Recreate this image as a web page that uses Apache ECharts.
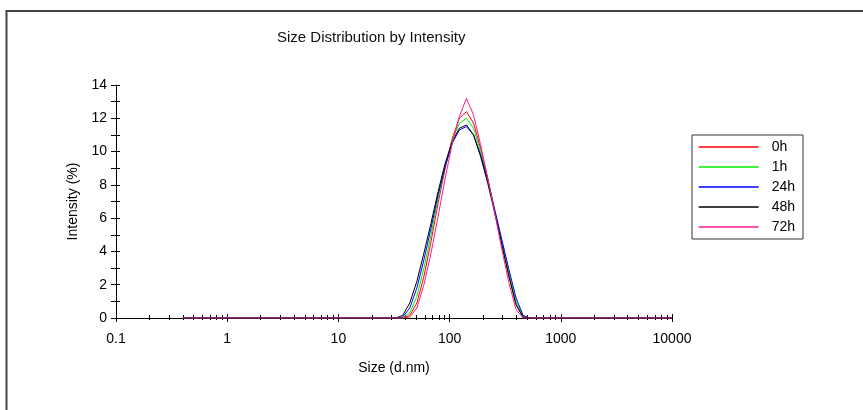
<!DOCTYPE html>
<html>
<head>
<meta charset="utf-8">
<script src="https://cdn.jsdelivr.net/npm/echarts@6/dist/echarts.min.js"></script>
<style>
html,body{margin:0;padding:0;background:#fff;}
#chart{width:863px;height:410px;}
</style>
</head>
<body>
<div id="chart"></div>
<script>
// Size classes (d.nm)
const sizes = [0.4, 0.4632, 0.5365, 0.6213, 0.7195, 0.8332, 0.9649, 1.117, 1.294, 1.499,
  1.736, 2.010, 2.328, 2.696, 3.122, 3.615, 4.187, 4.849, 5.615, 6.503,
  7.531, 8.721, 10.10, 11.70, 13.54, 15.69, 18.17, 21.04, 24.36, 28.21,
  32.67, 37.84, 43.82, 50.75, 58.77, 68.06, 78.82, 91.28, 105.7, 122.4,
  141.8, 164.2, 190.1, 220.2, 255.0, 295.3, 342.0, 396.1, 458.7, 531.2,
  615.1, 712.4, 825.0, 955.4, 1106, 1281, 1484, 1718, 1990, 2305,
  2669, 3091, 3580, 4145, 4801, 5560, 6439, 7456, 8635, 10000];

const seriesNames = ['0h', '1h', '24h', '48h', '72h'];

const int0h = [0,0,0,0,0,0,0,0,0,0, 0,0,0,0,0,0,0,0,0,0, 0,0,0,0,0,0,0,0,0,0,
  0, 0, 0.15, 0.9, 2.5, 4.6, 6.9, 9.0, 10.8, 12.0,
  12.4, 11.7, 10.2, 8.4, 6.4, 4.4, 2.5, 0.8, 0.03, 0,
  0,0,0,0,0,0,0,0,0,0, 0,0,0,0,0,0,0,0,0,0];
const int1h = [0,0,0,0,0,0,0,0,0,0, 0,0,0,0,0,0,0,0,0,0, 0,0,0,0,0,0,0,0,0,0,
  0, 0, 0.3, 1.3, 3.0, 5.0, 7.2, 9.1, 10.7, 11.7,
  12.0, 11.4, 10.0, 8.3, 6.4, 4.5, 2.7, 1.0, 0.1, 0,
  0,0,0,0,0,0,0,0,0,0, 0,0,0,0,0,0,0,0,0,0];
const int24h = [0,0,0,0,0,0,0,0,0,0, 0,0,0,0,0,0,0,0,0,0, 0,0,0,0,0,0,0,0,0,0,
  0, 0.05, 0.6, 1.8, 3.5, 5.4, 7.4, 9.1, 10.5, 11.3,
  11.5, 11.0, 9.8, 8.3, 6.5, 4.7, 2.9, 1.2, 0.15, 0,
  0,0,0,0,0,0,0,0,0,0, 0,0,0,0,0,0,0,0,0,0];
const int48h = [0,0,0,0,0,0,0,0,0,0, 0,0,0,0,0,0,0,0,0,0, 0,0,0,0,0,0,0,0,0,0,
  0, 0.15, 0.9, 2.2, 3.9, 5.7, 7.6, 9.3, 10.6, 11.4,
  11.6, 11.0, 9.7, 8.1, 6.3, 4.4, 2.5, 0.8, 0.05, 0,
  0,0,0,0,0,0,0,0,0,0, 0,0,0,0,0,0,0,0,0,0];
const int72h = [0,0,0,0,0,0,0,0,0,0, 0,0,0,0,0,0,0,0,0,0, 0,0,0,0,0,0,0,0,0,0,
  0, 0, 0.05, 0.6, 2.0, 3.9, 6.1, 8.4, 10.5, 12.1,
  13.2, 12.2, 10.4, 8.4, 6.3, 4.1, 2.1, 0.5, 0, 0,
  0,0,0,0,0,0,0,0,0,0, 0,0,0,0,0,0,0,0,0,0];

const xTickLabels = ['0.1', '1', '10', '100', '1000', '10000'];
const yTickLabels = ['0', '2', '4', '6', '8', '10', '12', '14'];
const colors = ['#ff0000', '#00ee00', '#0000ff', '#000000', '#ff1a8c'];

const allSeries = [int0h, int1h, int24h, int48h, int72h];

// minor decade ticks (2..9 within each decade) in log10 space
const minorTickValues = [];
for (let n = -1; n < 4; n++) {
  for (let k = 2; k <= 9; k++) minorTickValues.push(Math.log10(k * Math.pow(10, n)));
}

const FONT = 'Liberation Sans, Arial, sans-serif';
const chart = echarts.init(document.getElementById('chart'), null, {renderer: 'canvas'});

const baseX = {
  type: 'value', min: -1, max: 4, interval: 1, position: 'bottom', offset: 0,
  splitLine: {show: false}
};

chart.setOption({
  animation: false,
  backgroundColor: '#fff',
  textStyle: {fontFamily: FONT},
  title: {
    text: 'Size Distribution by Intensity',
    left: 277, top: 30, padding: 0,
    textStyle: {fontFamily: FONT, fontSize: 15, fontWeight: 'normal', color: '#111'}
  },
  graphic: [{
    type: 'rect', silent: true,
    shape: {x: 6.5, y: 11, width: 900, height: 500},
    style: {fill: 'none', stroke: '#444', lineWidth: 2}
  }],
  legend: {
    orient: 'vertical', left: 692, top: 135,
    padding: [5, 8, 5, 6],
    itemWidth: 60, itemHeight: 14, itemGap: 6,
    borderColor: '#333', borderWidth: 1, borderRadius: 0,
    itemStyle: {opacity: 0},
    lineStyle: {width: 1.3},
    data: seriesNames,
    textStyle: {fontFamily: FONT, fontSize: 14, color: '#000', padding: [0, 0, 0, 8]}
  },
  grid: {left: 116, right: 191, top: 85, bottom: 92, containLabel: false},
  xAxis: [
    Object.assign({}, baseX, {
      name: 'Size (d.nm)', nameLocation: 'middle', nameGap: 43,
      nameTextStyle: {fontFamily: FONT, fontSize: 14, color: '#000'},
      axisLine: {show: true, onZero: false, lineStyle: {color: '#000', width: 1}},
      axisTick: {show: true, inside: false, length: 4, lineStyle: {color: '#000'}},
      axisLabel: {show: true, margin: 14, fontFamily: FONT, fontSize: 14, color: '#000',
        formatter: function (v) { return xTickLabels[Math.round(v) + 1]; }}
    }),
    Object.assign({}, baseX, {
      axisLine: {show: false, onZero: false},
      axisTick: {show: true, inside: true, length: 4, lineStyle: {color: '#000'}},
      axisLabel: {show: false}
    }),
    Object.assign({}, baseX, {
      axisLine: {show: false, onZero: false},
      axisTick: {show: true, inside: false, length: 2, customValues: minorTickValues, lineStyle: {color: '#000'}},
      axisLabel: {show: false}
    }),
    Object.assign({}, baseX, {
      axisLine: {show: false, onZero: false},
      axisTick: {show: true, inside: true, length: 3, customValues: minorTickValues, lineStyle: {color: '#000'}},
      axisLabel: {show: false}
    })
  ],
  yAxis: [
    {
      type: 'value', min: 0, max: 14, interval: 2, position: 'left', offset: 0,
      name: 'Intensity (%)', nameLocation: 'middle', nameGap: 36,
      nameTextStyle: {fontFamily: FONT, fontSize: 14, color: '#000'},
      splitLine: {show: false},
      axisLine: {show: true, onZero: false, lineStyle: {color: '#000', width: 1}},
      axisTick: {show: true, inside: false, length: 5, lineStyle: {color: '#000'}},
      minorTick: {show: true, splitNumber: 2, length: 5, lineStyle: {color: '#000'}},
      axisLabel: {show: true, margin: 9, fontFamily: FONT, fontSize: 14, color: '#000',
        formatter: function (v) { return yTickLabels[Math.round(v / 2)]; }}
    },
    {
      type: 'value', min: 0, max: 14, interval: 2, position: 'left', offset: 0,
      splitLine: {show: false},
      axisLine: {show: false, onZero: false},
      axisTick: {show: true, inside: true, length: 4, lineStyle: {color: '#000'}},
      minorTick: {show: true, splitNumber: 2, length: 4, lineStyle: {color: '#000'}},
      axisLabel: {show: false}
    }
  ],
  series: seriesNames.map(function (name, si) {
    return {
      name: name, type: 'line', xAxisIndex: 0, yAxisIndex: 0,
      symbol: 'none', smooth: false,
      lineStyle: {width: 1, color: colors[si]},
      itemStyle: {color: colors[si]},
      data: sizes.map(function (s, i) { return [Math.log10(s), allSeries[si][i]]; })
    };
  })
});
</script>
</body>
</html>
